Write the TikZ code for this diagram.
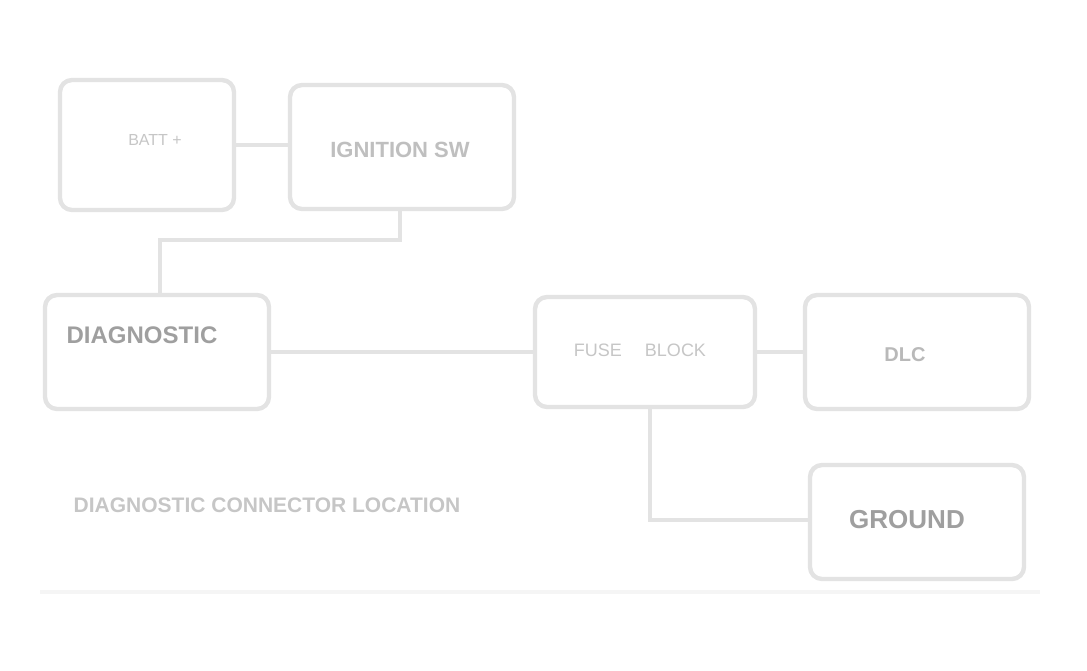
\documentclass[tikz,border=0pt]{standalone}
\usepackage{fontspec}
\setmainfont{Liberation Sans}
\usetikzlibrary{positioning}

\begin{document}
\begin{tikzpicture}[x=0.5pt, y=-0.5pt, box/.style={draw=gray!22, line width=2.2pt, rounded corners=6pt, fill=white}, wire/.style={draw=gray!22, line width=2pt}, lbl/.style={font=\fontsize{8}{9}\selectfont, text=gray!45}, blbl/.style={font=\fontsize{12}{14}\selectfont\bfseries, text=gray!75}]
    \useasboundingbox (0,0) rectangle (1087,670);

    \node[box, minimum width=87pt, minimum height=65pt] (batt) at (147,145) {};
    \node[box, minimum width=112pt, minimum height=62pt] (ign) at (402,147) {};
    \node[box, minimum width=112pt, minimum height=57pt] (diag) at (157,352) {};
    \node[box, minimum width=110pt, minimum height=55pt] (fuse) at (645,352) {};
    \node[box, minimum width=112pt, minimum height=57pt] (conn) at (917,352) {};
    \node[box, minimum width=107pt, minimum height=57pt] (gnd) at (917,522) {};

    \node[lbl] (battl) at (155,140) {BATT +};
    \node[lbl, font=\fontsize{11}{12}\selectfont\bfseries, text=gray!50] (ignl) at (400,150) {IGNITION SW};
    \node[blbl] (diagl) at (142,335) {DIAGNOSTIC};
    \node[lbl, font=\fontsize{9}{10}\selectfont] (fusel) at (640,350) {FUSE \quad BLOCK};
    \node[lbl, font=\fontsize{10}{11}\selectfont\bfseries, text=gray!55] (connl) at (905,355) {DLC};
    \node[blbl, font=\fontsize{13}{15}\selectfont\bfseries] (gndl) at (907,520) {GROUND};
    \node[lbl, font=\fontsize{10.5}{12}\selectfont\bfseries, text=gray!45] (note) at (267,505) {DIAGNOSTIC CONNECTOR LOCATION};

    \coordinate (j1) at (400,240);
    \coordinate (j2) at (160,240);
    \coordinate (j3) at (650,520);
    \coordinate (l1) at (40,592);
    \coordinate (l2) at (1040,592);

    \draw[wire] (batt) -- (ign.west |- batt);
    \draw[wire] (ign.south -| j1) -- (j1) -- (j2) -- (diag.north -| j2);
    \draw[wire] (diag.east |- fuse) -- (fuse);
    \draw[wire] (fuse) -- (conn);
    \draw[wire] (fuse.south -| j3) -- (j3) -- (gnd.west |- j3);
    \draw[draw=gray!8, line width=2pt] (l1) -- (l2);
\end{tikzpicture}
\end{document}
